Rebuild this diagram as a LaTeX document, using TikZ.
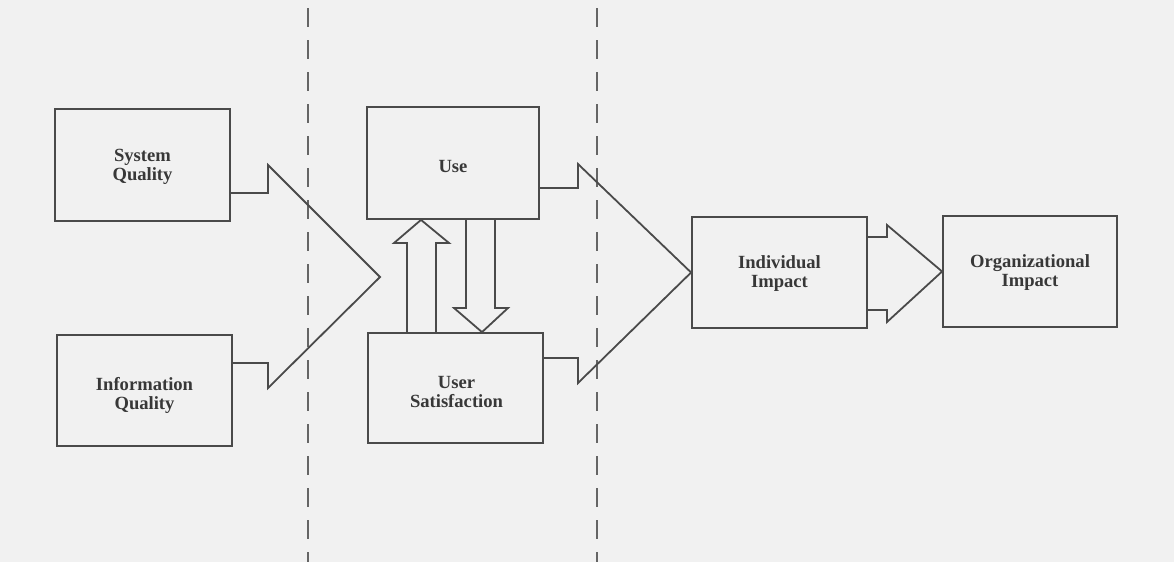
\documentclass[tikz,border=0pt]{standalone}
\usepackage{fontspec}
\setmainfont{Liberation Serif}
\usetikzlibrary{calc}
\definecolor{bgcol}{HTML}{F1F1F1}
\definecolor{linecol}{HTML}{4A4A4A}
\definecolor{textcol}{HTML}{383838}
\begin{document}
\begin{tikzpicture}[x=1pt,y=-1pt,
  box/.style={draw=linecol,line width=1.8pt,fill=none,inner sep=0pt},
  lbl/.style={text=textcol,font=\bfseries\fontsize{18.6}{19}\selectfont,align=center,inner sep=0pt},
  flow/.style={draw=linecol,line width=1.8pt,line join=miter},
  divider/.style={draw=linecol!85,line width=2pt,dash pattern=on 19pt off 13pt,dash phase=-8pt}]
\fill[bgcol] (0,0) rectangle (1174,562);
\useasboundingbox (0,0) rectangle (1174,562);

% dividers
\coordinate (d1t) at (308,0);
\coordinate (d1b) at (308,562);
\coordinate (d2t) at (597,0);
\coordinate (d2b) at (597,562);
\draw[divider] (d1t) -- (d1b);
\draw[divider] (d2t) -- (d2b);

% boxes
\node[box,minimum width=175pt,minimum height=112pt] (sq) at (142.5,165) {};
\node[box,minimum width=175pt,minimum height=111pt] (iq) at (144.5,390.5) {};
\node[box,minimum width=172pt,minimum height=112pt] (use) at (453,163) {};
\node[box,minimum width=175pt,minimum height=110pt] (us) at (455.5,388) {};
\node[box,minimum width=175pt,minimum height=111pt] (ii) at (779.5,272.5) {};
\node[box,minimum width=174pt,minimum height=111pt] (oi) at (1030,271.5) {};

% labels
\node[lbl] (sqt) at ($(sq.center)+(0,2)$) {System\\Quality};
\node[lbl] (iqt) at ($(iq.center)+(0,4.5)$) {Information\\Quality};
\node[lbl] (uset) at ($(use.center)+(0,3)$) {Use};
\node[lbl] (ust) at ($(us.center)+(1,4)$) {User\\Satisfaction};
\node[lbl] (iit) at ($(ii.center)+(0,1.5)$) {Individual\\Impact};
\node[lbl] (oit) at ($(oi.center)+(0,1.5)$) {Organizational\\Impact};

% merged arrow: system & information quality -> use / user satisfaction
\coordinate (tip1) at (380,277);
\draw[flow] ($(sq.east)+(0,28)$) -- (268,193) -- (268,165) -- (tip1)
  -- (268,388) -- (268,363) -- ($(iq.east)+(0,-27.5)$);

% merged arrow: use & user satisfaction -> individual impact
\draw[flow] ($(use.east)+(0,25)$) -- (578,188) -- (578,164) -- (ii.west)
  -- (578,383) -- (578,358) -- ($(us.east)+(0,-30)$);

% up arrow: user satisfaction -> use
\draw[flow] ($(us.north)+(-48.5,0)$) -- (407,243) -- (394,243) -- ($(use.south)+(-32,0)$)
  -- (449,243) -- (436,243) -- ($(us.north)+(-19.5,0)$);

% down arrow: use -> user satisfaction
\draw[flow] ($(use.south)+(13,0)$) -- (466,308) -- (454,308) -- ($(us.north)+(26.5,0)$)
  -- (508,308) -- (495,308) -- ($(use.south)+(42,0)$);

% arrow: individual impact -> organizational impact
\draw[flow] ($(ii.east)+(0,-35.5)$) -- (887,237) -- (887,225) -- (oi.west)
  -- (887,322) -- (887,310) -- ($(ii.east)+(0,37.5)$);
\end{tikzpicture}
\end{document}
